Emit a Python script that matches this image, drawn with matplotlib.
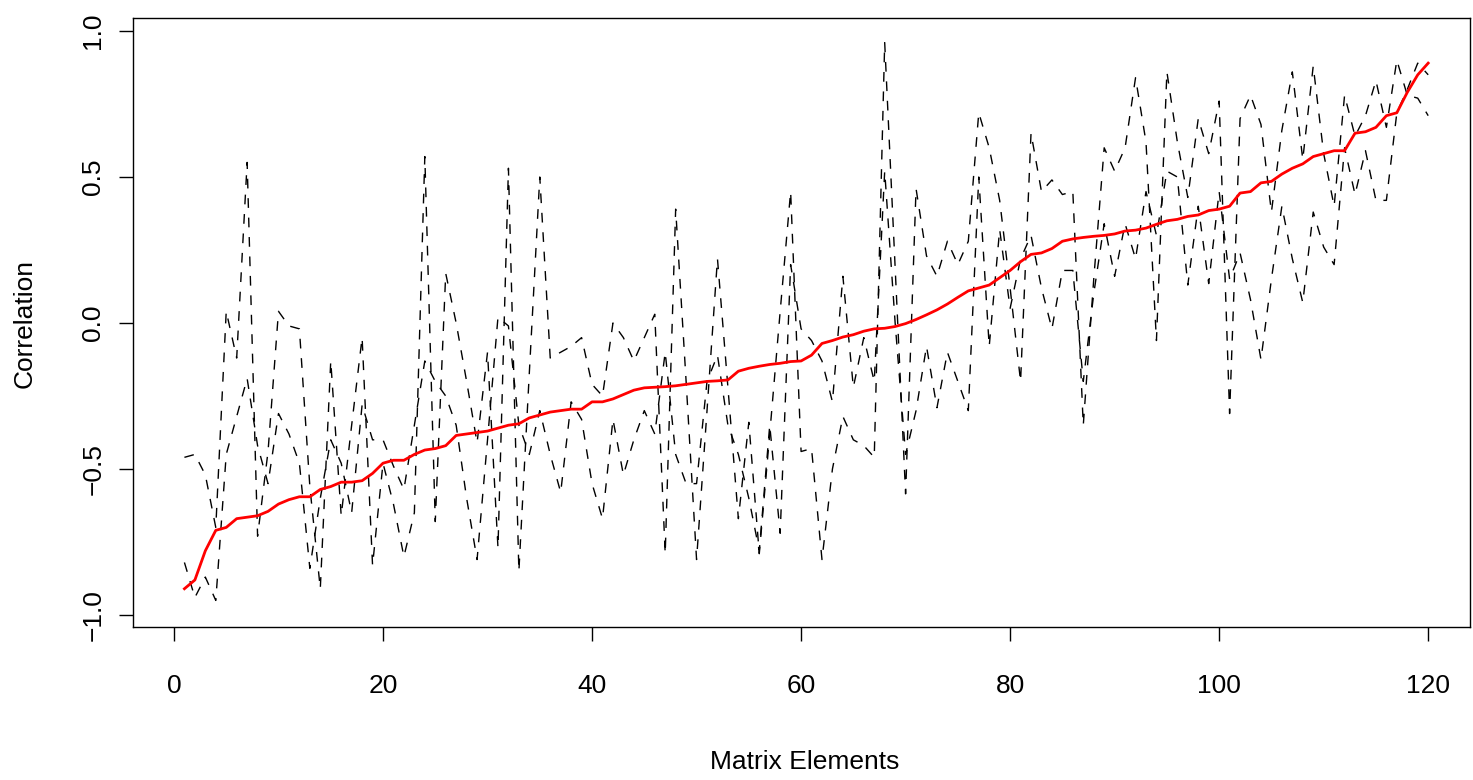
import matplotlib
matplotlib.use("Agg")
import matplotlib.pyplot as plt
import numpy as np

plt.rcParams['font.family'] = ['Liberation Sans', 'DejaVu Sans']

# sorted reference correlations (red line)
red_vals = [
    -0.91, -0.88, -0.78, -0.71, -0.70, -0.67, -0.665, -0.66, -0.645, -0.62,
    -0.605, -0.595, -0.595, -0.57, -0.56, -0.545, -0.545, -0.54, -0.515, -0.48,
    -0.47, -0.47, -0.45, -0.435, -0.43, -0.42, -0.385, -0.38, -0.375, -0.37,
    -0.36, -0.35, -0.345, -0.325, -0.315, -0.305, -0.30, -0.295, -0.295, -0.27,
    -0.27, -0.26, -0.245, -0.23, -0.222, -0.22, -0.218, -0.215, -0.21, -0.205,
    -0.20, -0.198, -0.195, -0.165, -0.155, -0.148, -0.142, -0.138, -0.132, -0.13,
    -0.11, -0.07, -0.06, -0.048, -0.04, -0.028, -0.02, -0.018, -0.012, -0.002,
    0.012, 0.028, 0.045, 0.065, 0.088, 0.11, 0.12, 0.13, 0.155, 0.18,
    0.21, 0.235, 0.24, 0.255, 0.28, 0.288, 0.293, 0.297, 0.30, 0.305,
    0.315, 0.318, 0.325, 0.338, 0.35, 0.355, 0.365, 0.37, 0.385, 0.39,
    0.40, 0.445, 0.45, 0.48, 0.485, 0.51, 0.53, 0.545, 0.57, 0.58,
    0.59, 0.59, 0.65, 0.655, 0.67, 0.71, 0.72, 0.79, 0.85, 0.89,
]

# first dashed series
dash_a = [
    -0.46, -0.45, -0.52, -0.70, 0.04, -0.12, 0.55, -0.73, -0.44, 0.04,
    -0.01, -0.02, -0.56, -0.91, -0.13, -0.66, -0.35, -0.05, -0.83, -0.48,
    -0.62, -0.80, -0.65, 0.57, -0.68, 0.17, 0.00, -0.20, -0.41, -0.10,
    -0.77, 0.53, -0.85, -0.17, 0.50, -0.12, -0.10, -0.08, -0.05, -0.21,
    -0.25, 0.00, -0.05, -0.13, -0.05, 0.03, -0.79, 0.39, -0.20, -0.81,
    -0.30, 0.22, -0.22, -0.67, -0.34, -0.79, -0.38, 0.04, 0.45, -0.44,
    -0.43, -0.81, -0.50, -0.32, -0.40, -0.42, -0.46, 0.96, 0.19, -0.585,
    0.46, 0.23, 0.16, 0.28, 0.20, 0.28, 0.72, 0.60, 0.42, 0.12,
    -0.20, 0.65, 0.45, 0.49, 0.44, 0.45, -0.35, 0.15, 0.60, 0.52,
    0.60, 0.84, 0.62, -0.06, 0.86, 0.62, 0.43, 0.70, 0.58, 0.76,
    -0.31, 0.70, 0.78, 0.68, 0.38, 0.66, 0.86, 0.56, 0.88, 0.58,
    0.40, 0.78, 0.64, 0.71, 0.83, 0.67, 0.90, 0.78, 0.77, 0.71,
]

# second dashed series
dash_b = [
    -0.82, -0.94, -0.87, -0.95, -0.45, -0.32, -0.19, -0.42, -0.55, -0.31,
    -0.38, -0.48, -0.84, -0.60, -0.40, -0.48, -0.65, -0.28, -0.40, -0.40,
    -0.49, -0.57, -0.35, -0.13, -0.20, -0.25, -0.35, -0.60, -0.81, -0.40,
    0.02, -0.01, -0.35, -0.45, -0.30, -0.45, -0.58, -0.27, -0.33, -0.55,
    -0.67, -0.33, -0.52, -0.40, -0.30, -0.38, -0.10, -0.45, -0.55, -0.55,
    -0.20, -0.11, -0.35, -0.45, -0.60, -0.78, -0.35, -0.72, 0.20, -0.02,
    -0.06, -0.13, -0.27, 0.16, -0.22, -0.05, -0.20, 0.52, 0.00, -0.45,
    -0.30, -0.08, -0.29, -0.10, -0.20, -0.30, 0.50, -0.08, 0.32, 0.05,
    0.22, 0.30, 0.12, -0.02, 0.18, 0.18, -0.20, 0.10, 0.34, 0.16,
    0.34, 0.22, 0.45, 0.30, 0.52, 0.50, 0.13, 0.40, 0.135, 0.45,
    0.15, 0.24, 0.08, -0.125, 0.15, 0.40, 0.22, 0.07, 0.38, 0.26,
    0.20, 0.60, 0.44, 0.59, 0.42, 0.42, 0.72, 0.80, 0.89, 0.85,
]

x_ticks = [0, 20, 40, 60, 80, 100, 120]
y_ticks = [-1.0, -0.5, 0.0, 0.5, 1.0]
y_labels = ['\u22121.0', '\u22120.5', '0.0', '0.5', '1.0']

idx = np.arange(1, len(red_vals) + 1)

fig = plt.figure(figsize=(14.73, 7.80), dpi=100)
ax = fig.add_axes([133 / 1473, 1 - 627 / 780, (1470 - 133) / 1473, (627 - 18) / 780])

ax.plot(idx, dash_a, color='black', lw=1.0, linestyle=(0, (7, 7)))
ax.plot(idx, dash_b, color='black', lw=1.0, linestyle=(0, (7, 7)))
ax.plot(idx, red_vals, color='#ff0000', lw=2.0)

ax.set_xlim(-3.92, 124.0)
ax.set_ylim(-1.041, 1.0445)
ax.set_xticks(x_ticks)
ax.set_xticklabels([str(t) for t in x_ticks])
ax.set_yticks(y_ticks)
ax.set_yticklabels(y_labels, rotation=90, va='center')
ax.tick_params(axis='both', direction='out', length=10, width=1, labelsize=19)
ax.tick_params(axis='x', pad=24)
ax.tick_params(axis='y', pad=10)
for s in ax.spines.values():
    s.set_linewidth(1.0)

fig.text(805 / 1473, 1 - 762 / 780, 'Matrix Elements', ha='center', va='center', fontsize=19)
fig.text(25 / 1473, 1 - 323 / 780, 'Correlation', ha='center', va='center', fontsize=19, rotation=90)

fig.savefig('out.png', dpi=100)
